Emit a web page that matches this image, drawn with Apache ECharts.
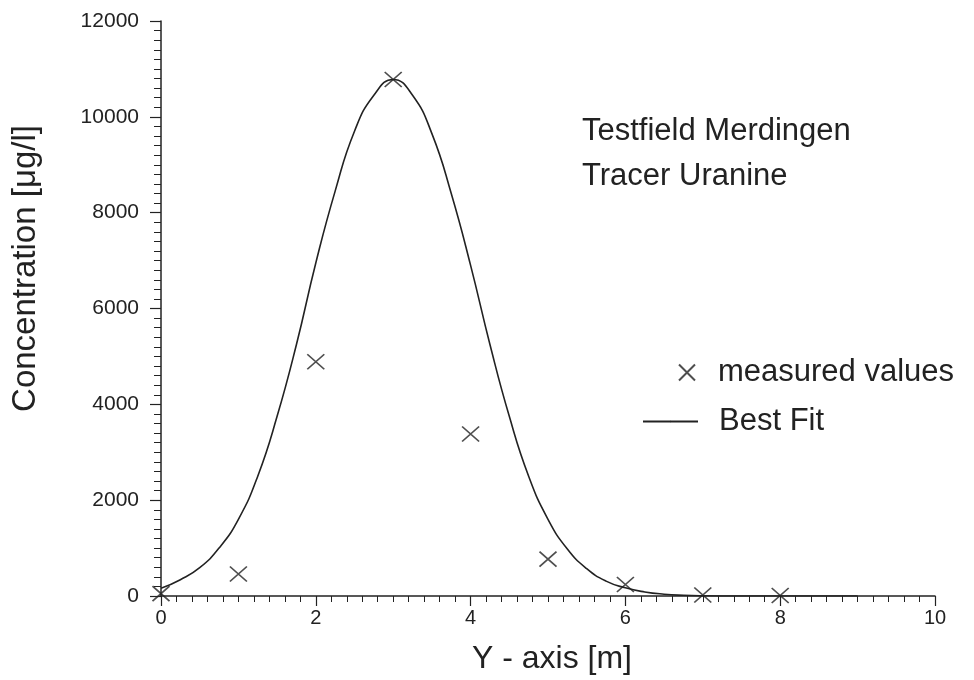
<!DOCTYPE html>
<html>
<head>
<meta charset="utf-8">
<title>Testfield Merdingen - Tracer Uranine</title>
<script src="https://cdn.jsdelivr.net/npm/echarts@6/dist/echarts.min.js"></script>
<style>
  html, body { margin: 0; padding: 0; background: #fff; }
  #chart { width: 974px; height: 680px; }
</style>
</head>
<body>
<div id="chart"></div>
<script>
// Measured values (Y position [m], concentration [ug/l])
var measX = [0, 1, 2, 3, 4, 5, 6, 7, 8];
var measY = [50, 460, 4890, 10780, 3380, 770, 240, 20, 10];

// Best fit curve
var fitX = [0, 0.25, 0.5, 0.75, 1, 1.25, 1.5, 1.75, 2, 2.25, 2.5, 2.75, 3,
            3.25, 3.5, 3.75, 4, 4.25, 4.5, 4.75, 5, 5.25, 5.5, 5.75, 6,
            6.25, 6.5, 6.75, 7, 7.5, 8, 9];
var fitY = [160, 340, 590, 1000, 1600, 2500, 3750, 5250, 6950, 8450, 9700, 10450, 10780,
            10450, 9650, 8400, 6900, 5250, 3750, 2500, 1600, 980, 570, 310, 170,
            85, 38, 15, 5, 0, 0, 0];

// Axis ticks
var xTicks = [0, 2, 4, 6, 8, 10];
var yTicks = [0, 2000, 4000, 6000, 8000, 10000, 12000];

var textColor = '#222';
var fontFamily = '"Liberation Sans", Arial, Helvetica, sans-serif';

var pairs = function (xs, ys) {
    return xs.map(function (x, i) { return [x, ys[i]]; });
};

var plainNumber = function (v) {
    return String(v);
};

var option = {
    animation: false,
    backgroundColor: '#fff',
    textStyle: { fontFamily: fontFamily, color: textColor },

    // Annotation
    title: {
        text: 'Testfield Merdingen\nTracer Uranine',
        left: 582,
        top: 109,
        padding: 0,
        textStyle: {
            fontSize: 31,
            fontWeight: 'normal',
            lineHeight: 45,
            color: textColor,
            fontFamily: fontFamily
        }
    },

    // Legend, one block per entry so the icons line up like the original
    legend: [{
        data: ['measured values'],
        left: 678,
        top: 357,
        padding: 0,
        itemWidth: 18,
        itemHeight: 16,
        textStyle: { fontSize: 31, color: textColor, padding: [0, 0, 0, 17] }
    }, {
        data: ['Best Fit'],
        left: 642,
        top: 406,
        padding: 0,
        itemWidth: 55,
        itemHeight: 2,
        textStyle: { fontSize: 31, color: textColor, padding: [0, 0, 0, 16] }
    }],

    grid: {
        left: 161,
        right: 39,
        top: 21,
        bottom: 81
    },

    xAxis: {
        type: 'value',
        min: xTicks[0],
        max: xTicks[xTicks.length - 1],
        interval: 2,
        name: 'Y - axis [m]',
        nameLocation: 'middle',
        nameGap: 47,
        nameTextStyle: { fontSize: 32, color: textColor, padding: [0, 0, 0, 8] },
        axisLine: { onZero: false, lineStyle: { color: '#222', width: 1.5 } },
        axisTick: { length: 10, lineStyle: { color: '#222', width: 1.2 } },
        minorTick: { show: true, splitNumber: 10, length: 6, lineStyle: { color: '#222', width: 1 } },
        axisLabel: { fontSize: 20, color: textColor, margin: 12, formatter: plainNumber },
        splitLine: { show: false }
    },

    yAxis: {
        type: 'value',
        min: yTicks[0],
        max: yTicks[yTicks.length - 1],
        interval: 2000,
        name: 'Concentration [\u03BCg/l]',
        nameLocation: 'middle',
        nameGap: 119,
        nameTextStyle: { fontSize: 33, color: textColor, padding: [0, 0, 0, 80] },
        axisLine: { show: true, onZero: false, lineStyle: { color: '#222', width: 1.5 } },
        axisTick: { show: true, length: 11, lineStyle: { color: '#222', width: 1.2 } },
        minorTick: { show: true, splitNumber: 10, length: 7, lineStyle: { color: '#222', width: 1 } },
        axisLabel: { fontSize: 21, color: textColor, margin: 22, formatter: plainNumber },
        splitLine: { show: false }
    },

    series: [{
        name: 'measured values',
        type: 'scatter',
        data: pairs(measX, measY),
        symbol: 'path://M0,0L10,10M0,10L10,0',
        symbolSize: [17, 15],
        clip: false,
        itemStyle: { color: 'transparent', borderColor: '#222', borderWidth: 1.6 },
        z: 3
    }, {
        name: 'Best Fit',
        type: 'line',
        data: pairs(fitX, fitY),
        smooth: true,
        symbol: 'none',
        showSymbol: false,
        itemStyle: { color: '#222' },
        lineStyle: { color: '#222', width: 1.6 },
        z: 2
    }]
};

var chart = echarts.init(document.getElementById('chart'));
chart.setOption(option);
</script>
</body>
</html>
